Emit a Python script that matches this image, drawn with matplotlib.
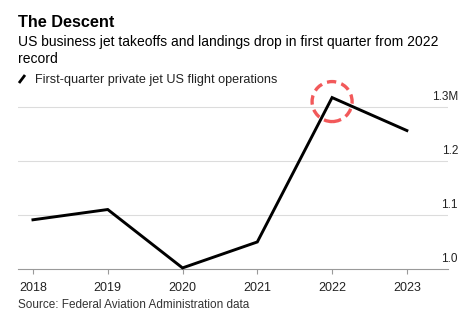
import matplotlib
matplotlib.use("Agg")
import matplotlib.pyplot as plt
from matplotlib.patches import Circle
from matplotlib.lines import Line2D

plt.rcParams['font.family'] = ['Liberation Sans', 'DejaVu Sans']

years = [2018, 2019, 2020, 2021, 2022, 2023]
operations = [1.091, 1.110, 1.002, 1.050, 1.317, 1.256]  # millions
ytick_vals = [1.0, 1.1, 1.2, 1.3]
ytick_labels = ['1.0', '1.1', '1.2', '1.3M']

W, H = 474, 333
fig = plt.figure(figsize=(W / 100, H / 100), dpi=100)
fig.patch.set_facecolor('white')

# axes placed in pixel terms: x 18..448, y 90..269 (from top)
ax = fig.add_axes([18 / W, (H - 269) / H, 430 / W, 179 / H])
ax.set_xlim(2017.8, 2023.55)
ax.set_ylim(1.0, 1.331)

for v in ytick_vals[1:]:
    ax.axhline(v, color='#dcdcdc', lw=0.8, zorder=1)

ax.plot(years, operations, color='black', lw=2.1, solid_joinstyle='miter', zorder=3, clip_on=False)

for s in ['top', 'right', 'left']:
    ax.spines[s].set_visible(False)
ax.spines['bottom'].set_color('#9a9a9a')
ax.spines['bottom'].set_linewidth(0.8)
ax.set_yticks([])
ax.set_xticks(years)
ax.set_xticklabels([str(y) for y in years], fontsize=9, color='#222222')
ax.tick_params(axis='x', length=3.5, width=0.8, color='#9a9a9a', pad=6)
ax.patch.set_alpha(0)

# y labels sit above their gridlines on the right
for v, lab in zip(ytick_vals, ytick_labels):
    ax.annotate(lab, xy=(1.0, v), xycoords=('axes fraction', 'data'),
                xytext=(10, 4), textcoords='offset pixels',
                ha='right', va='bottom', fontsize=8.5, color='#222222')

# highlight the 2022 record
fig.canvas.draw()
px, py = ax.transData.transform((years[4], operations[4]))
ring = Circle((px, py - 4), radius=20, transform=None, fill=False,
              edgecolor='#f2595a', lw=2.4, linestyle=(0, (2.8, 1.6)), zorder=4)
fig.patches.append(ring)

fig.text(18 / W, 1 - 27 / H, 'The Descent', fontsize=11.7, fontweight='bold', color='black')
fig.text(18 / W, 1 - 46 / H, 'US business jet takeoffs and landings drop in first quarter from 2022',
         fontsize=10.0, color='black')
fig.text(18 / W, 1 - 63 / H, 'record', fontsize=10.0, color='black')
fig.lines.append(Line2D([19 / W, 25 / W], [1 - 83 / H, 1 - 75 / H], transform=fig.transFigure,
                        color='black', lw=2.0, solid_capstyle='butt'))
fig.text(35 / W, 1 - 83 / H, 'First-quarter private jet US flight operations', fontsize=9.1, color='#222222')
fig.text(18 / W, 1 - 308 / H, 'Source: Federal Aviation Administration data', fontsize=8.45, color='#333333')

fig.savefig('out.png', dpi=100)
